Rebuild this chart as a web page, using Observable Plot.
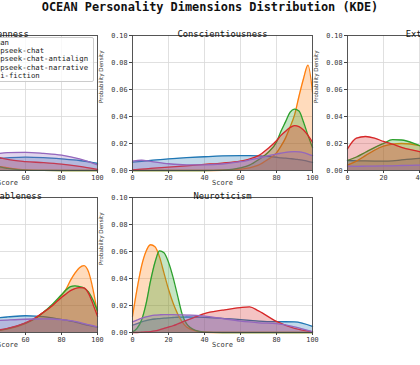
<!DOCTYPE html>
<html>
<head>
<meta charset="utf-8">
<script src="https://cdn.jsdelivr.net/npm/d3@7"></script>
<script src="https://cdn.jsdelivr.net/npm/@observablehq/plot@0.6"></script>
<style>
  html, body { margin: 0; padding: 0; background: #fff; }
  #page { position: relative; width: 420px; height: 365px; overflow: hidden; background: #fff; }
  #page svg { position: absolute; overflow: visible; }
  #title { position: absolute; left: 0; width: 420px; top: 0px; text-align: center;
           font: bold 11.9px "DejaVu Sans Mono", monospace; color: #111; line-height: 14px; }
  #legend { position: absolute; left: -40px; top: 37px; width: 132px; height: 42.5px;
            border: 1px solid #ccc; border-radius: 2px; background: rgba(255,255,255,0.8);
            font: 7.3px "DejaVu Sans Mono", monospace; color: #222; }
  #legend .item { position: absolute; left: 0; height: 8px; line-height: 8px; white-space: nowrap; }
  #legend .sw { display: inline-block; width: 14px; height: 5px; margin-left: 7px; margin-right: 3px; vertical-align: middle; }
</style>
</head>
<body>
<div id="page">
  <div id="title"></div>
  <div id="legend"></div>
</div>
<script>
const chartTitle = "OCEAN Personality Dimensions Distribution (KDE)";
const seriesNames = ["Human", "deepseek-chat", "deepseek-chat-antialign", "deepseek-chat-narrative", "mini-fiction"];
const seriesColors = ["#1f77b4", "#ff7f0e", "#2ca02c", "#d62728", "#9467bd"];
const xTicks = [0, 20, 40, 60, 80, 100];
const yTicks = [0, 0.02, 0.04, 0.06, 0.08, 0.10];

// Openness
const opennessScores = [0, 10, 20, 30, 40, 50, 60, 70, 80, 90, 100];
const opennessHuman     = [0.004, 0.0055, 0.0068, 0.0078, 0.0085, 0.0094, 0.0099, 0.0095, 0.0086, 0.0074, 0.0053];
const opennessChat      = [0.010, 0.028, 0.035, 0.020, 0.005, 0.002, 0.0005, 0.0001, 0, 0, 0];
const opennessAntialign = [0.008, 0.022, 0.030, 0.022, 0.006, 0.0015, 0.0003, 0.0001, 0, 0, 0];
const opennessNarrative = [0.010, 0.016, 0.020, 0.019, 0.012, 0.0082, 0.0066, 0.0058, 0.0047, 0.003, 0.0008];
const opennessFiction   = [0.003, 0.005, 0.0075, 0.0095, 0.0115, 0.0132, 0.0135, 0.0127, 0.0114, 0.0086, 0.0042];

// Conscientiousness
const conscScores = [0, 5, 10, 20, 30, 40, 50, 60, 65, 70, 75, 80, 82.5, 85, 87.5, 90, 92.5, 95, 97.5, 100];
const conscHuman     = [0.0062, 0.0068, 0.0074, 0.0086, 0.0095, 0.0102, 0.0108, 0.011, 0.011, 0.0108, 0.0104, 0.0098, 0.0094, 0.0091, 0.0088, 0.0085, 0.008, 0.0075, 0.0068, 0.006];
const conscChat      = [0, 0, 0, 0, 0, 0, 0.0002, 0.001, 0.002, 0.004, 0.008, 0.013, 0.018, 0.024, 0.032, 0.041, 0.055, 0.068, 0.078, 0.058];
const conscAntialign = [0, 0, 0, 0, 0, 0, 0.0003, 0.002, 0.004, 0.008, 0.013, 0.021, 0.029, 0.036, 0.043, 0.0455, 0.044, 0.036, 0.026, 0.017];
const conscNarrative = [0.0005, 0.001, 0.0015, 0.0025, 0.0035, 0.0045, 0.0055, 0.007, 0.0085, 0.011, 0.016, 0.022, 0.026, 0.029, 0.0318, 0.0333, 0.0325, 0.030, 0.026, 0.021];
const conscFiction   = [0.007, 0.0076, 0.0068, 0.005, 0.0042, 0.0042, 0.0048, 0.0065, 0.0078, 0.0092, 0.0108, 0.0122, 0.0128, 0.0134, 0.0138, 0.014, 0.0138, 0.0132, 0.0122, 0.011];

// Extraversion
const extraScores = [0, 5, 10, 15, 20, 25, 30, 40, 50, 60, 70, 80, 90, 100];
const extraHuman     = [0.0074, 0.0072, 0.0071, 0.007, 0.0069, 0.0071, 0.0078, 0.009, 0.0098, 0.0102, 0.010, 0.0095, 0.0085, 0.007];
const extraChat      = [0.004, 0.007, 0.011, 0.015, 0.018, 0.0195, 0.020, 0.0185, 0.014, 0.009, 0.005, 0.0025, 0.001, 0.0003];
const extraAntialign = [0.0074, 0.010, 0.0135, 0.017, 0.0200, 0.0228, 0.0226, 0.0185, 0.014, 0.009, 0.005, 0.0025, 0.001, 0.0003];
const extraNarrative = [0.016, 0.024, 0.0252, 0.024, 0.0215, 0.0195, 0.0172, 0.014, 0.010, 0.007, 0.0045, 0.0025, 0.001, 0.0003];
const extraFiction   = [0.0032, 0.0031, 0.0032, 0.0033, 0.0034, 0.0035, 0.0037, 0.004, 0.0045, 0.005, 0.0055, 0.0058, 0.0058, 0.0055];

// Agreeableness
const agreeScores = [0, 5, 10, 20, 30, 40, 50, 60, 65, 70, 75, 80, 82.5, 85, 87.5, 90, 92.5, 95, 97.5, 100];
const agreeHuman     = [0.005, 0.0058, 0.0066, 0.008, 0.0093, 0.0105, 0.0115, 0.0124, 0.0122, 0.0117, 0.0108, 0.0097, 0.0091, 0.0084, 0.0077, 0.0069, 0.006, 0.0052, 0.0046, 0.004];
const agreeChat      = [0, 0, 0, 0, 0.0002, 0.001, 0.0025, 0.0066, 0.010, 0.015, 0.020, 0.0275, 0.032, 0.0386, 0.044, 0.048, 0.0496, 0.045, 0.032, 0.014];
const agreeAntialign = [0, 0, 0, 0, 0.0002, 0.001, 0.0028, 0.007, 0.010, 0.015, 0.021, 0.028, 0.0315, 0.034, 0.0346, 0.034, 0.033, 0.030, 0.024, 0.016];
const agreeNarrative = [0, 0, 0, 0, 0.0003, 0.0012, 0.003, 0.0072, 0.0105, 0.015, 0.020, 0.026, 0.0285, 0.031, 0.0325, 0.0333, 0.033, 0.029, 0.021, 0.012];
const agreeFiction   = [0.004, 0.005, 0.006, 0.007, 0.0078, 0.0085, 0.0092, 0.0098, 0.010, 0.0101, 0.010, 0.0095, 0.0092, 0.0088, 0.0082, 0.0075, 0.0066, 0.0058, 0.005, 0.0042];

// Neuroticism
const neuroScores = [0, 2.5, 5, 7.5, 10, 12.5, 15, 17.5, 20, 22.5, 25, 27.5, 30, 35, 40, 50, 60, 65, 70, 80, 90, 100];
const neuroHuman     = [0.0054, 0.0065, 0.0078, 0.0088, 0.0095, 0.010, 0.0103, 0.0106, 0.0109, 0.0111, 0.0113, 0.0114, 0.0115, 0.0114, 0.0112, 0.0105, 0.0095, 0.009, 0.0085, 0.008, 0.0079, 0.0045];
const neuroChat      = [0.012, 0.032, 0.049, 0.060, 0.065, 0.0635, 0.056, 0.044, 0.032, 0.022, 0.014, 0.008, 0.004, 0.0012, 0.0002, 0, 0, 0, 0, 0, 0, 0];
const neuroAntialign = [0.0005, 0.003, 0.009, 0.021, 0.038, 0.052, 0.0605, 0.059, 0.052, 0.041, 0.0275, 0.014, 0.0065, 0.0015, 0.0003, 0, 0, 0, 0, 0, 0, 0];
const neuroNarrative = [0, 0, 0.0002, 0.0004, 0.0007, 0.0012, 0.002, 0.003, 0.004, 0.005, 0.0063, 0.0077, 0.009, 0.0115, 0.014, 0.0165, 0.0185, 0.019, 0.016, 0.0082, 0.003, 0.0005];
const neuroFiction   = [0.0078, 0.0092, 0.0105, 0.0115, 0.0123, 0.0128, 0.0131, 0.0133, 0.0133, 0.0132, 0.0131, 0.013, 0.0129, 0.0127, 0.0122, 0.0103, 0.0085, 0.0078, 0.0072, 0.0066, 0.0042, 0.0006];

const panels = [
  {title: "Openness",          scores: opennessScores, dens: [opennessHuman, opennessChat, opennessAntialign, opennessNarrative, opennessFiction], left: -83,   top: 35},
  {title: "Conscientiousness", scores: conscScores,    dens: [conscHuman, conscChat, conscAntialign, conscNarrative, conscFiction],             left: 131.7, top: 35},
  {title: "Extraversion",      scores: extraScores,    dens: [extraHuman, extraChat, extraAntialign, extraNarrative, extraFiction],             left: 346.7, top: 35},
  {title: "Agreeableness",     scores: agreeScores,    dens: [agreeHuman, agreeChat, agreeAntialign, agreeNarrative, agreeFiction],             left: -83,   top: 197},
  {title: "Neuroticism",       scores: neuroScores,    dens: [neuroHuman, neuroChat, neuroAntialign, neuroNarrative, neuroFiction],             left: 131.7, top: 197}
];

const ML = 35, MR = 5, MT = 14, MB = 20, PW = 180, PH = 135;
const page = document.getElementById("page");
document.getElementById("title").textContent = chartTitle;

for (const p of panels) {
  const marks = [
    Plot.gridX(xTicks.slice(1, -1), {stroke: "#d8d8d8", strokeOpacity: 1, strokeWidth: 0.8}),
    Plot.gridY(yTicks.slice(1, -1), {stroke: "#d8d8d8", strokeOpacity: 1, strokeWidth: 0.8})
  ];
  seriesNames.forEach((s, i) => {
    const rows = p.scores.map((x, j) => ({series: s, score: x, density: p.dens[i][j]}));
    marks.push(Plot.areaY(rows, {x: "score", y1: 0, y2: "density", fill: seriesColors[i], fillOpacity: 0.28, curve: "monotone-x"}));
    marks.push(Plot.lineY(rows, {x: "score", y: "density", stroke: seriesColors[i], strokeWidth: 1.3, curve: "monotone-x"}));
  });
  marks.push(
    Plot.frame({stroke: "#444", strokeWidth: 0.9}),
    Plot.axisX({ticks: xTicks, tickSize: 3, tickPadding: 1.5, stroke: "#444", fill: "#333", label: null, fontSize: 6.8}),
    Plot.axisY({ticks: yTicks, tickSize: 3, tickPadding: 2, stroke: "#444", fill: "#333", label: null, tickFormat: d3.format(".2f"), fontSize: 6.8}),
    Plot.text([p.title], {frameAnchor: "top", dy: -5, fontSize: 8.8, fill: "#111", fontFamily: "DejaVu Sans Mono"}),
    Plot.text(["Score"], {frameAnchor: "bottom", dy: 14.5, fontSize: 7, fill: "#333", fontFamily: "DejaVu Sans Mono"}),
    Plot.text(["Probability Density"], {frameAnchor: "left", dx: -31, rotate: -90, fontSize: 5.6, fill: "#333", fontFamily: "DejaVu Sans"})
  );
  const svg = Plot.plot({
    width: ML + PW + MR, height: MT + PH + MB,
    marginLeft: ML, marginRight: MR, marginTop: MT, marginBottom: MB,
    x: {domain: [0, 100]},
    y: {domain: [0, 0.1]},
    style: {fontFamily: "DejaVu Sans Mono", fontSize: "6.8px", background: "transparent", overflow: "visible"},
    marks
  });
  svg.style.left = (p.left - ML) + "px";
  svg.style.top = (p.top - MT) + "px";
  page.insertBefore(svg, document.getElementById("legend"));
}

const legend = document.getElementById("legend");
seriesNames.forEach((s, i) => {
  const item = document.createElement("div");
  item.className = "item";
  item.style.top = (0.5 + i * 8.4) + "px";
  const sw = document.createElement("span");
  sw.className = "sw";
  sw.style.background = seriesColors[i];
  sw.style.opacity = "0.5";
  sw.style.border = "1px solid " + seriesColors[i];
  item.appendChild(sw);
  item.appendChild(document.createTextNode(s));
  legend.appendChild(item);
});
</script>
</body>
</html>
